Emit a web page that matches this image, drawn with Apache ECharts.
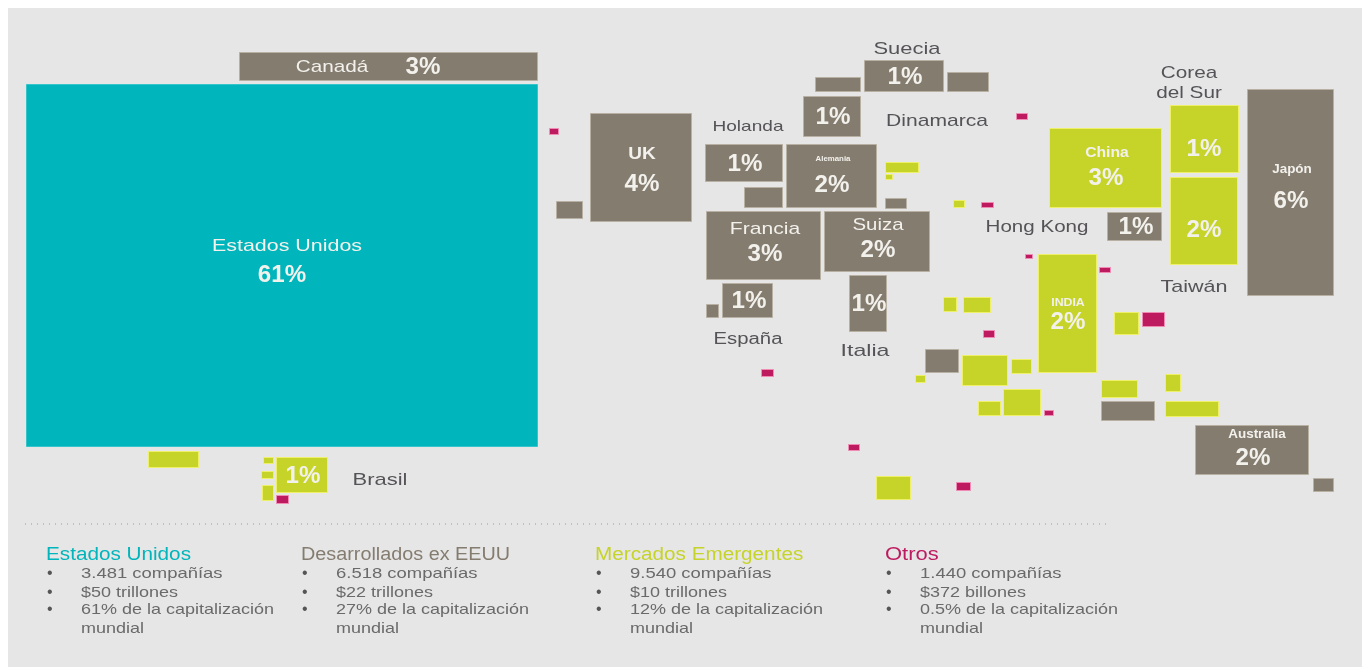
<!DOCTYPE html>
<html>
<head>
<meta charset="utf-8">
<title>Capitalización mundial</title>
<script src="https://cdn.jsdelivr.net/npm/echarts@6/dist/echarts.min.js"></script>
<style>
    html, body { margin: 0; padding: 0; background: #fff; }
    #main { width: 1362px; height: 667px; }
</style>
</head>
<body>
<div id="main"></div>
<script>
// celdas del mapa: [x0, y0, x1, y1] en unidades del mapa (eje 0-1362 / 0-667)
var celdasEEUU = [[27, 84, 538, 447]];
var celdasDesarrollados = [
    [240, 52, 538, 81], [591, 113, 692, 222], [557, 201, 583, 219],
    [706, 144, 783, 182], [745, 187, 783, 208], [787, 144, 877, 208],
    [886, 198, 907, 209], [707, 211, 821, 280], [825, 211, 930, 272],
    [804, 96, 861, 137], [816, 77, 861, 92], [865, 60, 944, 92],
    [948, 72, 989, 92], [723, 283, 773, 318], [707, 304, 719, 318],
    [850, 275, 887, 332], [926, 349, 959, 373], [1108, 212, 1162, 241],
    [1248, 89, 1334, 296], [1102, 401, 1155, 421], [1196, 425, 1309, 475],
    [1314, 478, 1334, 492]
];
var celdasEmergentes = [
    [1050, 128, 1162, 208], [1171, 105, 1239, 173], [1171, 177, 1238, 265],
    [1039, 254, 1097, 373], [886, 162, 919, 173], [886, 174, 893, 180],
    [954, 200, 965, 208], [944, 297, 957, 312], [964, 297, 991, 313],
    [963, 355, 1008, 386], [1012, 359, 1032, 374], [1004, 389, 1041, 416],
    [979, 401, 1001, 416], [916, 375, 926, 383], [877, 476, 911, 500],
    [1115, 312, 1139, 335], [1102, 380, 1138, 398], [1166, 374, 1181, 392],
    [1166, 401, 1219, 417], [149, 451, 199, 468], [277, 457, 328, 493],
    [264, 457, 274, 464], [262, 471, 274, 479], [263, 485, 274, 501]
];
var celdasOtros = [
    [550, 128, 559, 135], [1017, 113, 1028, 120], [982, 202, 994, 208],
    [1026, 254, 1033, 259], [1100, 267, 1111, 273], [984, 330, 995, 338],
    [762, 369, 774, 377], [849, 444, 860, 451], [957, 482, 971, 491],
    [1045, 410, 1054, 416], [1143, 312, 1165, 327], [277, 495, 289, 504]
];

var paises = ['Estados Unidos', 'Canadá', 'UK', 'Holanda', 'Alemania', 'Francia', 'Suiza', 'Suecia', 'Dinamarca',
    'España', 'Italia', 'Hong Kong', 'Japón', 'Australia', 'China', 'Corea del Sur', 'Taiwán', 'INDIA', 'Brasil'];
var cuotas = [61, 3, 4, 1, 2, 3, 2, 1, 1, 1, 1, 1, 6, 2, 3, 1, 2, 2, 1];

var grupos = ['Estados Unidos', 'Desarrollados ex EEUU', 'Mercados Emergentes', 'Otros'];
var companias = ['3.481', '6.518', '9.540', '1.440'];
var capital = ['$50 trillones', '$22 trillones', '$10 trillones', '$372 billones'];
var capitalizacion = ['61%', '27%', '12%', '0.5%'];

var colores = ['#00b5bb', '#857c70', '#c6d329', '#bd1a5f'];
var bordes = ['#35c4c9', '#b9b0a4', '#eef06a', '#f08cb4'];
var colorOscuro = '#555357';
var colorClaro = '#f2f1ec';
var fuente = '"Liberation Sans", sans-serif';

// colocación de los rótulos: nombre [x, y, tamaño, color, peso, ancho] y porcentaje [x, y]
var rotulos = {
    'Estados Unidos': { nombre: [287, 244, 17, colorClaro, 'normal', 1.26], pct: [282, 274] },
    'Canadá': { nombre: [332, 65, 17, colorClaro, 'normal', 1.22], pct: [423, 66] },
    'UK': { nombre: [642, 152, 17, colorClaro, 'bold', 1.12], pct: [642, 183] },
    'Holanda': { nombre: [748, 125, 15, colorOscuro, 'normal', 1.27], pct: [745, 163] },
    'Alemania': { nombre: [833, 157, 7, colorClaro, 'bold', 1.12], pct: [832, 184] },
    'Francia': { nombre: [765, 227, 17, colorClaro, 'normal', 1.24], pct: [765, 253] },
    'Suiza': { nombre: [878, 223, 17, colorClaro, 'normal', 1.2], pct: [878, 249] },
    'Suecia': { nombre: [907, 47, 17, colorOscuro, 'normal', 1.29], pct: [905, 76] },
    'Dinamarca': { nombre: [937, 119, 17, colorOscuro, 'normal', 1.24], pct: [833, 116] },
    'España': { nombre: [748, 338, 16, colorOscuro, 'normal', 1.27], pct: [749, 300] },
    'Italia': { nombre: [865, 349, 17, colorOscuro, 'normal', 1.36], pct: [869, 303] },
    'Hong Kong': { nombre: [1037, 225, 17, colorOscuro, 'normal', 1.21], pct: [1136, 226] },
    'Japón': { nombre: [1292, 168, 12, colorClaro, 'bold', 1.12], pct: [1291, 200] },
    'Australia': { nombre: [1257, 433, 12, colorClaro, 'bold', 1.12], pct: [1253, 457] },
    'China': { nombre: [1107, 151, 14, colorClaro, 'bold', 1.12], pct: [1106, 177] },
    'Corea del Sur': { nombre: [1189, 71, 17, colorOscuro, 'normal', 1.22], pct: [1204, 148] },
    'Taiwán': { nombre: [1194, 285, 17, colorOscuro, 'normal', 1.27], pct: [1204, 229] },
    'INDIA': { nombre: [1068, 301, 11, colorClaro, 'bold', 1.12], pct: [1068, 321] },
    'Brasil': { nombre: [380, 478, 17, colorOscuro, 'normal', 1.29], pct: [303, 475] }
};

var myChart = echarts.init(document.getElementById('main'));

function pintaCeldas(i) {
    return function (params, api) {
        var a = api.coord([api.value(0), api.value(1)]);
        var b = api.coord([api.value(2), api.value(3)]);
        return {
            type: 'rect',
            shape: { x: a[0] - 0.5, y: a[1] + 0.5, width: b[0] - a[0], height: b[1] - a[1] - 1 },
            style: { fill: colores[i], stroke: bordes[i], lineWidth: 1 }
        };
    };
}

function texto(t, x, y, size, color, peso, ancho, alinea) {
    return {
        type: 'text', x: x, y: y + 2, scaleX: ancho, silent: true,
        style: {
            text: t, fill: color, font: peso + ' ' + size + 'px ' + fuente,
            textAlign: alinea || 'center', textVerticalAlign: 'middle'
        }
    };
}

function pintaRotulo(params, api) {
    var nom = paises[params.dataIndex];
    var r = rotulos[nom];
    var n = r.nombre;
    var hijos = [];
    var pN = api.coord([n[0], n[1]]);
    var pP = api.coord([r.pct[0], r.pct[1]]);
    if (nom === 'Corea del Sur') {
        hijos.push(texto('Corea', pN[0], pN[1], n[2], n[3], n[4], n[5]));
        hijos.push(texto('del Sur', pN[0], pN[1] + 20, n[2], n[3], n[4], n[5]));
    } else {
        hijos.push(texto(nom, pN[0], pN[1], n[2], n[3], n[4], n[5]));
    }
    hijos.push(texto(cuotas[params.dataIndex] + '%', pP[0], pP[1], 23, colorClaro, 'bold', 1.05));
    return { type: 'group', children: hijos };
}

// bloque inferior con la descripción de cada grupo
var columnas = [46, 301, 595, 885];
var anchosGrupo = [1.15, 1.1, 1.15, 1.22];
var bloque = [];
bloque.push({
    type: 'rect', silent: true,
    shape: { x: 8, y: 8, width: 1354, height: 659 },
    style: { fill: '#e6e6e6' }
});
bloque.push({
    type: 'line', silent: true,
    shape: { x1: 25, y1: 524, x2: 1107, y2: 524 },
    style: { stroke: '#9a9a9a', lineWidth: 1, lineDash: [1, 5] }
});
grupos.forEach(function (g, i) {
    var x = columnas[i];
    bloque.push(texto(g, x, 553, 18, colores[i], 'normal', anchosGrupo[i], 'left'));
    [572, 591, 608].forEach(function (y) {
        bloque.push(texto('•', x + 1, y, 16, '#555555', 'normal', 1, 'left'));
    });
    bloque.push(texto(companias[i] + ' compañías', x + 35, 572, 15, '#6a6a6a', 'normal', 1.23, 'left'));
    bloque.push(texto(capital[i], x + 35, 591, 15, '#6a6a6a', 'normal', 1.2, 'left'));
    bloque.push(texto(capitalizacion[i] + ' de la capitalización', x + 35, 608, 15, '#6a6a6a', 'normal', 1.2, 'left'));
    bloque.push(texto('mundial', x + 35, 627, 15, '#6a6a6a', 'normal', 1.2, 'left'));
});

var option = {
    animation: false,
    backgroundColor: '#ffffff',
    grid: { left: 0, right: 0, top: 0, bottom: 0 },
    xAxis: { type: 'value', min: 0, max: 1362, show: false },
    yAxis: { type: 'value', min: 0, max: 667, inverse: true, show: false },
    graphic: bloque,
    series: [
        { name: grupos[0], type: 'custom', coordinateSystem: 'cartesian2d', renderItem: pintaCeldas(0), data: celdasEEUU, clip: false },
        { name: grupos[1], type: 'custom', coordinateSystem: 'cartesian2d', renderItem: pintaCeldas(1), data: celdasDesarrollados, clip: false },
        { name: grupos[2], type: 'custom', coordinateSystem: 'cartesian2d', renderItem: pintaCeldas(2), data: celdasEmergentes, clip: false },
        { name: grupos[3], type: 'custom', coordinateSystem: 'cartesian2d', renderItem: pintaCeldas(3), data: celdasOtros, clip: false },
        { name: 'rotulos', type: 'custom', coordinateSystem: 'cartesian2d', renderItem: pintaRotulo, data: cuotas.map(function (v, i) { return [i, v]; }), clip: false, z: 5 }
    ]
};
myChart.setOption(option);
</script>
</body>
</html>
